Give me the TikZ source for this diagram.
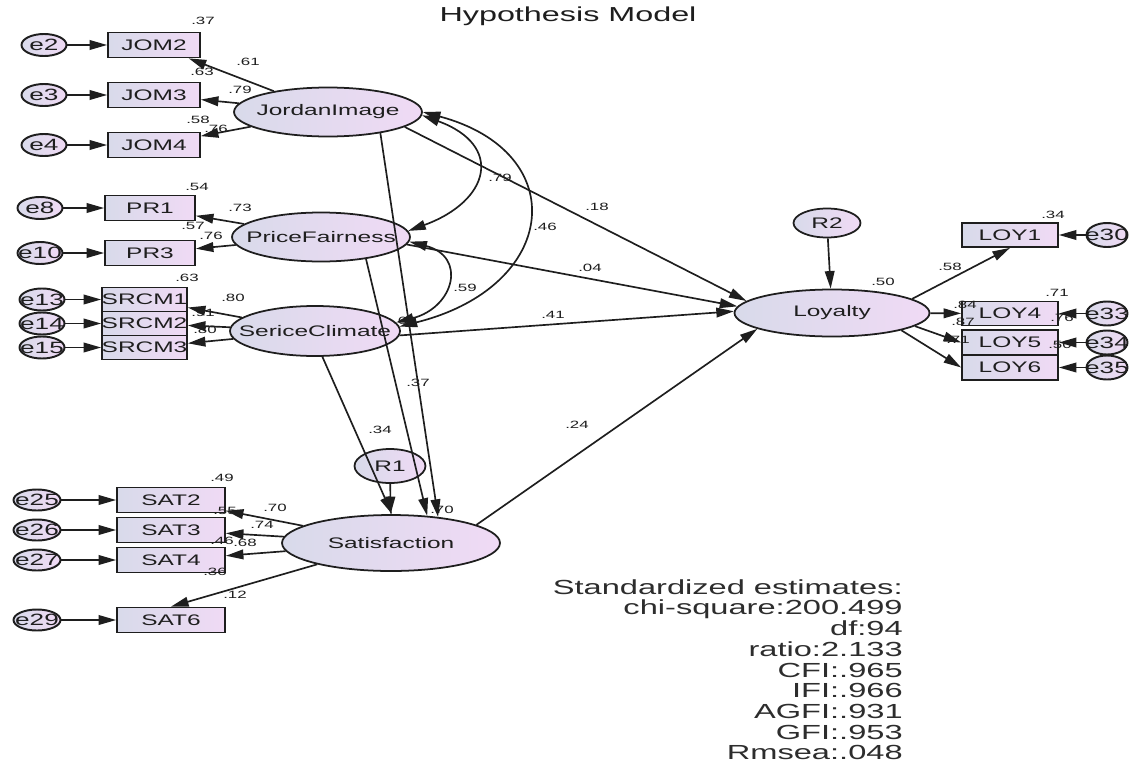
\documentclass[tikz,border=0pt]{standalone}
\usepackage{fontspec}
\setmainfont[FakeStretch=1.6]{Liberation Sans}
\usetikzlibrary{arrows.meta,shapes.geometric}
\definecolor{lavL}{RGB}{216,218,234}
\definecolor{lavR}{RGB}{240,218,245}
\definecolor{ink}{RGB}{30,30,30}
\newcommand\cbx[1]{\makebox[0pt]{#1}}
\tikzset{
 every node/.style={text=ink},
 lat/.style={ellipse, draw=ink, line width=1pt, inner sep=0pt, left color=lavL, right color=lavR, font=\fontsize{8.7}{10}\selectfont},
 err/.style={ellipse, draw=ink, line width=1.1pt, inner sep=0pt, left color=lavL, right color=lavR, font=\fontsize{9.3}{10}\selectfont},
 obs/.style={rectangle, draw=ink, line width=1pt, inner sep=0pt, left color=lavL, right color=lavR, font=\fontsize{8.7}{10}\selectfont},
 coef/.style={font=\fontsize{6}{7}\selectfont, inner sep=0pt},
 arr/.style={draw=ink, line width=0.95pt, -{Triangle[length=10pt,width=5.5pt]}},
 cov/.style={draw=ink, line width=0.95pt, {Triangle[length=10pt,width=5.5pt]}-{Triangle[length=10pt,width=5.5pt]}},
 eA/.style={err, minimum width=0.9cm, minimum height=0.44cm},
 eB/.style={err, minimum width=0.94cm, minimum height=0.42cm},
 eC/.style={err, minimum width=0.82cm, minimum height=0.48cm},
}
\begin{document}
\begin{tikzpicture}[x=0.02cm,y=-0.02cm]
\useasboundingbox[fill=white] (0,0) rectangle (1131,767);
\node (title) [font=\fontsize{11.5}{13}\selectfont] at (568,16) {Hypothesis Model};

% latent variables
\node[lat, minimum width=3.76cm, minimum height=0.98cm] (JI) at (328,112) {\cbx{JordanImage}};
\node[lat, minimum width=3.56cm, minimum height=0.98cm] (PF) at (321,237) {\cbx{PriceFairness}};
\node[lat, minimum width=3.4cm, minimum height=1.0cm] (SC) at (315,331) {\cbx{SericeClimate}};
\node[lat, minimum width=4.36cm, minimum height=1.12cm] (SAT) at (391,543) {\cbx{Satisfaction}};
\node[lat, minimum width=3.9cm, minimum height=0.94cm] (LOY) at (832,313) {\cbx{Loyalty}};
\node[lat, minimum width=1.42cm, minimum height=0.68cm] (R1) at (390,466) {\cbx{R1}};
\node[lat, minimum width=1.34cm, minimum height=0.58cm] (R2) at (827,223) {\cbx{R2}};

% observed variables
\node[obs, minimum width=1.84cm, minimum height=0.5cm] (JOM2) at (154,45) {\cbx{JOM2}};
\node[obs, minimum width=1.84cm, minimum height=0.5cm] (JOM3) at (154,95) {\cbx{JOM3}};
\node[obs, minimum width=1.84cm, minimum height=0.5cm] (JOM4) at (154,145) {\cbx{JOM4}};
\node[obs, minimum width=1.8cm, minimum height=0.5cm] (PR1) at (150,208) {\cbx{PR1}};
\node[obs, minimum width=1.8cm, minimum height=0.5cm] (PR3) at (150,253) {\cbx{PR3}};
\node[obs, minimum width=1.7cm, minimum height=0.48cm] (SRCM1) at (144.5,299.5) {\cbx{SRCM1}};
\node[obs, minimum width=1.7cm, minimum height=0.48cm] (SRCM2) at (144.5,323.5) {\cbx{SRCM2}};
\node[obs, minimum width=1.7cm, minimum height=0.48cm] (SRCM3) at (144.5,347.5) {\cbx{SRCM3}};
\node[obs, minimum width=2.16cm, minimum height=0.5cm] (SAT2) at (171,500) {\cbx{SAT2}};
\node[obs, minimum width=2.16cm, minimum height=0.5cm] (SAT3) at (171,530) {\cbx{SAT3}};
\node[obs, minimum width=2.16cm, minimum height=0.5cm] (SAT4) at (171,560) {\cbx{SAT4}};
\node[obs, minimum width=2.16cm, minimum height=0.5cm] (SAT6) at (171,620) {\cbx{SAT6}};
\node[obs, minimum width=1.92cm, minimum height=0.48cm] (LOY1) at (1010,235) {\cbx{LOY1}};
\node[obs, minimum width=1.92cm, minimum height=0.48cm] (LOY4) at (1010,313.5) {\cbx{LOY4}};
\node[obs, minimum width=1.92cm, minimum height=0.5cm] (LOY5) at (1010,342.5) {\cbx{LOY5}};
\node[obs, minimum width=1.92cm, minimum height=0.5cm] (LOY6) at (1010,367.5) {\cbx{LOY6}};

% error terms
\node[eA] (e2) at (44,45) {\cbx{e2}};
\node[eA] (e3) at (44,95) {\cbx{e3}};
\node[eA] (e4) at (44,145) {\cbx{e4}};
\node[eA] (e8) at (40,208) {\cbx{e8}};
\node[eA] (e10) at (40,253) {\cbx{e10}};
\node[eA] (e13) at (42,299.5) {\cbx{e13}};
\node[eA] (e14) at (42,323.5) {\cbx{e14}};
\node[eA] (e15) at (42,347.5) {\cbx{e15}};
\node[eB] (e25) at (37,500) {\cbx{e25}};
\node[eB] (e26) at (37,530) {\cbx{e26}};
\node[eB] (e27) at (37,560) {\cbx{e27}};
\node[eB] (e29) at (37,620) {\cbx{e29}};
\node[eC] (e30) at (1107,235) {\cbx{e30}};
\node[eC] (e33) at (1107,313.5) {\cbx{e33}};
\node[eC] (e34) at (1107,342.5) {\cbx{e34}};
\node[eC] (e35) at (1107,367.5) {\cbx{e35}};

% error arrows
\foreach \a/\b in {e2/JOM2,e3/JOM3,e4/JOM4,e8/PR1,e10/PR3,e13/SRCM1,e14/SRCM2,e15/SRCM3,e25/SAT2,e26/SAT3,e27/SAT4,e29/SAT6,e30/LOY1,e33/LOY4,e34/LOY5,e35/LOY6}
  \draw[arr] (\a) -- (\b);

% measurement arrows
\foreach \b in {JOM2,JOM3,JOM4} \draw[arr] (JI) -- (\b);
\foreach \b in {PR1,PR3} \draw[arr] (PF) -- (\b);
\foreach \b in {SRCM1,SRCM2,SRCM3} \draw[arr] (SC) -- (\b);
\foreach \b in {SAT2,SAT3,SAT4} \draw[arr] (SAT) -- (\b);
\draw[arr] (SAT) -- (SAT6.north);
\draw[arr] (LOY.10) -- (LOY1.south);
\draw[arr] (LOY) -- (LOY4);
\draw[arr] (LOY.-9) -- (LOY5.west);
\draw[arr] (LOY.-14) -- (LOY6.west);

% structural arrows
\draw[arr] (JI.-11) -- (LOY.172);
\draw[arr] (PF.-5) -- (LOY.176);
\draw[arr] (SC.-3) -- (LOY.179);
\draw[arr] (SAT.12) -- (LOY.192);
\draw[arr] (JI.-22) -- (SAT.29);
\draw[arr] (PF.-26) -- (SAT.37);
\draw[arr] (SC.-74) -- (SAT.88);
\draw[arr] (R1) -- (SAT);
\draw[arr] (R2) -- (LOY);

% covariances
\draw[cov] (JI.-2) .. controls +(82,30) and +(82,-30) .. (PF.4);
\draw[cov] (JI.0) .. controls +(150,40) and +(160,-40) .. (SC.3);
\draw[cov] (PF.-3) .. controls +(58,15) and +(58,-15) .. (SC.6);

% coefficients
\node[coef] (c1) at (203,21) {.37};
\node[coef] (c2) at (248,62) {.61};
\node[coef] (c3) at (202,72) {.63};
\node[coef] (c4) at (240,90) {.79};
\node[coef] (c5) at (198,120) {.58};
\node[coef] (c6) at (216,129) {.76};
\node[coef] (c7) at (197,187) {.54};
\node[coef] (c8) at (240,208) {.73};
\node[coef] (c9) at (193,226) {.57};
\node[coef] (c10) at (211,236) {.76};
\node[coef] (c11) at (187,278) {.63};
\node[coef] (c12) at (233,298) {.80};
\node[coef] (c13) at (203,313) {.91};
\node[coef] (c14) at (205,330) {.80};
\node[coef] (c15) at (222,478) {.49};
\node[coef] (c16) at (275,508) {.70};
\node[coef] (c17) at (225,511) {.55};
\node[coef] (c18) at (262,525) {.74};
\node[coef] (c19) at (222,541) {.46};
\node[coef] (c20) at (245,543) {.68};
\node[coef] (c21) at (215,572) {.36};
\node[coef] (c22) at (235,595) {.12};
\node[coef] (c23) at (500,178) {.79};
\node[coef] (c24) at (545,227) {.46};
\node[coef] (c25) at (465,288) {.59};
\node[coef] (c26) at (405,321) {.60};
\node[coef] (c27) at (597,207) {.18};
\node[coef] (c28) at (590,268) {.04};
\node[coef] (c29) at (553,315) {.41};
\node[coef] (c30) at (577,425) {.24};
\node[coef] (c31) at (418,383) {.37};
\node[coef] (c32) at (380,430) {.34};
\node[coef] (c33) at (442,510) {.70};
\node[coef] (c34) at (883,282) {.50};
\node[coef] (c35) at (950,267) {.58};
\node[coef] (c36) at (1053,215) {.34};
\node[coef] (c37) at (1057,293) {.71};
\node[coef] (c38) at (965,305) {.84};
\node[coef] (c39) at (963,322) {.87};
\node[coef] (c40) at (1062,318) {.76};
\node[coef] (c41) at (958,340) {.71};
\node[coef] (c42) at (1060,345) {.50};

% fit statistics
\node[anchor=north east, align=right, inner sep=0pt, font=\fontsize{11.6}{11.8}\selectfont, text={rgb,255:red,45;green,45;blue,45}] (stats) at (903,579)
 {Standardized estimates:\\chi-square:200.499\\df:94\\ratio:2.133\\CFI:.965\\IFI:.966\\AGFI:.931\\GFI:.953\\Rmsea:.048};
\end{tikzpicture}
\end{document}
